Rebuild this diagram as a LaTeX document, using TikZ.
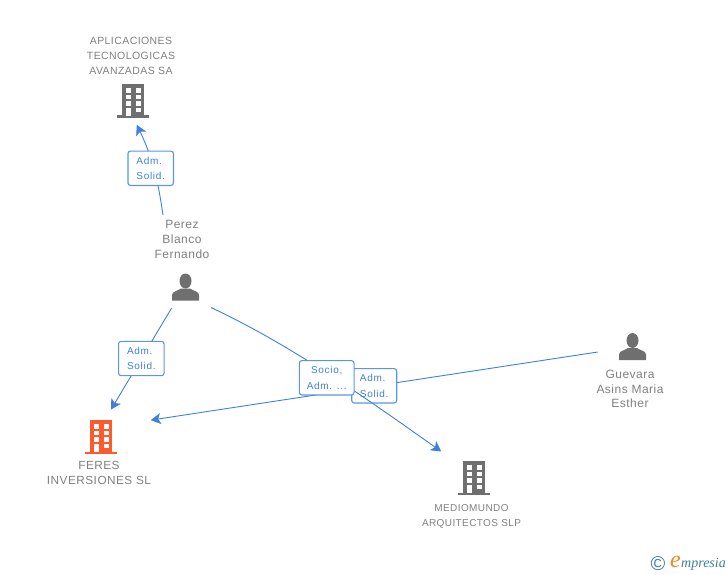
\documentclass[tikz,border=0pt]{standalone}
\usepackage{fontspec}
\setmainfont{Liberation Sans}
\newfontfamily\spaced[LetterSpace=4]{Liberation Sans}
\newfontfamily\spacedb[LetterSpace=7]{Liberation Sans}
\newfontfamily\logofont{Liberation Serif}
\usetikzlibrary{arrows.meta}
\definecolor{iconGray}{HTML}{6F6F6F}
\definecolor{iconOrange}{HTML}{FF5A2B}
\definecolor{txtGray}{HTML}{808080}
\definecolor{linkBlue}{HTML}{3F80DE}
\definecolor{boxBlue}{HTML}{5C95E2}
\definecolor{logoBlue}{HTML}{3E7F99}
\definecolor{logoOrange}{HTML}{F08A1D}
\tikzset{
  x=1pt,y=-1pt,
  pics/bldg/.style={code={
    \fill[#1] (-11,-17) rectangle (11,15);
    \fill[#1] (-16,14.5) rectangle (16,17);
    \foreach \yy in {-12.7,-6.2,0.3}{
      \fill[white] (-7.5,\yy) rectangle (-2.5,\yy+4.3);
      \fill[white] (2.5,\yy) rectangle (8,\yy+4.3);
    }
    \fill[white] (-7.5,7) rectangle (-2.5,15);
    \fill[white] (2.5,7) rectangle (8,11.3);
  }},
  pics/person/.style={code={
    \fill[iconGray] (0,-6) ellipse (6 and 7.5);
    \fill[iconGray] (-13.5,13.5) -- (-13.5,8) .. controls (-13.5,4.5) and (-8,4) .. (-4.5,1.5)
       -- (4.5,1.5) .. controls (8,4) and (13.5,4.5) .. (13.5,8) -- (13.5,13.5) -- cycle;
  }},
  zone/.style={circle,inner sep=0pt,minimum size=2*#1*1pt},
  name text/.style={align=center,text=txtGray,inner sep=0pt},
  link/.style={draw=linkBlue,line width=0.9pt},
  arrowed/.style={-{Stealth[length=10pt,width=11pt,inset=2.5pt]}},
  tag/.style={draw=boxBlue,line width=1.1pt,fill=white,rounded corners=2.5pt,inner sep=0pt,
    minimum width=#1,minimum height=34.3pt,text=linkBlue,align=left,
    font=\spacedb\fontsize{10}{15.4}\selectfont},
}
\begin{document}
\begin{tikzpicture}
\useasboundingbox (0,0) rectangle (728,575);
% icon zones (invisible) used as connector ends
\node[zone=24] (aplic) at (133,101) {};
\node[zone=30] (perez) at (185.5,287) {};
\node[zone=29] (feres) at (101,437) {};
\node[zone=42] (medio) at (474,478) {};
\node[zone=35] (guev) at (632.5,346.5) {};
\pic at (aplic) {bldg=iconGray};
\pic at (feres) {bldg=iconOrange};
\pic at (medio) {bldg=iconGray};
\pic at (perez) {person};
\pic at (guev) {person};
% connectors below the labels
\draw[link,arrowed] (perez.115) .. controls (160,225) and (165,183) .. (aplic.-81);
\draw[link,arrowed,shorten <=-5pt] (perez.-123) -- (feres.70);
\draw[link,arrowed,shorten >=24pt] (guev.-171) -- (feres.27);
% texts
\node[name text,fill=white,minimum width=56pt,minimum height=48pt,font=\spaced\fontsize{12}{15}\selectfont] (tperez) at (182,239) {Perez\\Blanco\\Fernando};
\node[name text,font=\spaced\fontsize{10.5}{15}\selectfont] (taplic) at (131,56) {APLICACIONES\\TECNOLOGICAS\\AVANZADAS SA};
\node[name text,font=\spaced\fontsize{11.8}{15}\selectfont] (tferes) at (99,472.5) {FERES\\INVERSIONES SL};
\node[name text,font=\spaced\fontsize{10}{15}\selectfont] (tmedio) at (471.5,516) {MEDIOMUNDO\\ARQUITECTOS SLP};
\node[name text,font=\spaced\fontsize{12}{14.7}\selectfont] (tguev) at (630,389) {Guevara\\Asins Maria\\Esther};
% labels
\node[tag=45.5pt] (l1) at (150.7,168.3) {Adm.\\Solid.};
\node[tag=45.5pt] (l2) at (141.3,358.5) {Adm.\\Solid.};
\node[tag=45pt] (l4) at (374.2,385.8) {Adm.\\Solid.};
\draw[link,arrowed,shorten <=2.5pt] (perez.-40) .. controls (292,345.5) and (367,399) .. (medio.141);
\node[tag=54.7pt,align=center] (l3) at (326.7,377.8) {Socio,\\Adm. ...};
% logo
\node[inner sep=0pt,text=logoBlue,font=\fontsize{20}{20}\selectfont] (lcopy) at (658,564) {©};
\node[inner sep=0pt,text=logoOrange,font=\logofont\itshape\fontsize{24}{24}\selectfont] (llogoe) at (675.5,561.5) {e};
\node[inner sep=0pt,text=logoBlue,anchor=east,font=\logofont\itshape\fontsize{14}{15}\selectfont] (llogo) at (726,564) {mpresia};
\end{tikzpicture}
\end{document}
